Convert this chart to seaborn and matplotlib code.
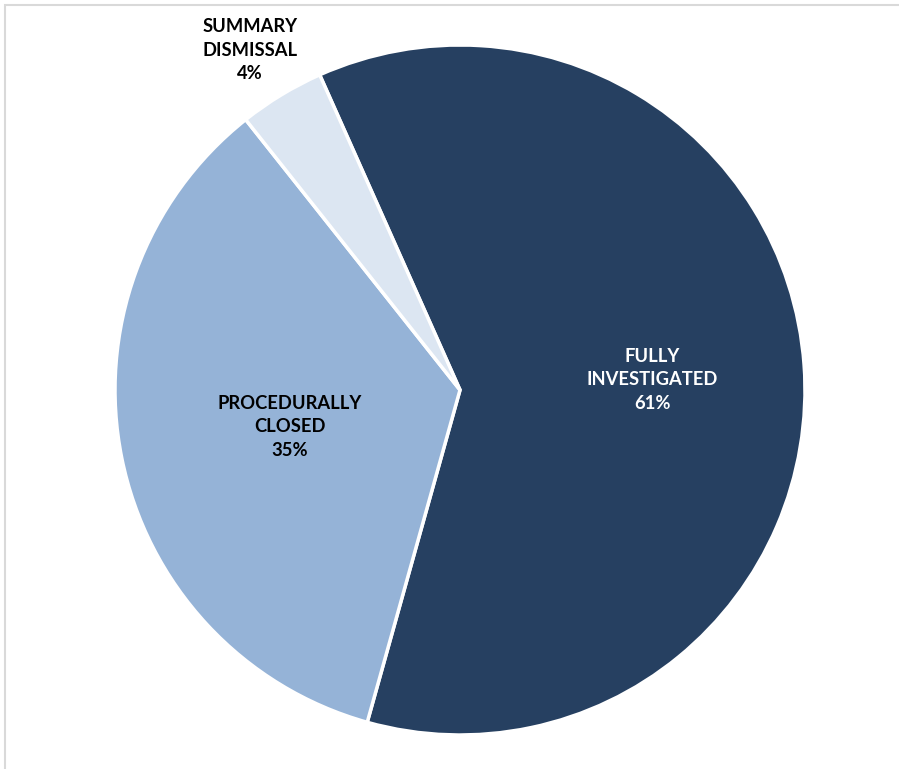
import matplotlib
matplotlib.use("Agg")
import matplotlib.pyplot as plt
import seaborn as sns
from matplotlib.patches import Rectangle

categories = ["FULLY\nINVESTIGATED", "PROCEDURALLY\nCLOSED", "SUMMARY\nDISMISSAL"]
values = [61, 35, 4]
pct_labels = ["61%", "35%", "4%"]
colors = ["#264061", "#95B3D7", "#DCE6F2"]
text_colors = ["white", "black", "black"]

sns.set_theme(style="white")
plt.rcParams['font.family'] = ['Lato', 'DejaVu Sans']

W, H = 899, 769
fig = plt.figure(figsize=(W / 100, H / 100), dpi=100)
ax = fig.add_axes([0, 0, 1, 1])
cx, cy, R = 460, 390, 345

wedges, _ = ax.pie(values, colors=colors, startangle=114, counterclock=False,
                   radius=1, center=(0, 0), frame=False,
                   wedgeprops=dict(edgecolor='white', linewidth=2.5))
ax.set_xlim(-cx / R, (W - cx) / R)
ax.set_ylim(-(H - cy) / R, cy / R)
ax.set_aspect('auto')
ax.axis('off')

label_pos = [(0.557, 0.029), (-0.493, -0.107), (-0.609, 0.985)]
for cat, pct, pos, tc in zip(categories, pct_labels, label_pos, text_colors):
    ax.text(pos[0], pos[1], f"{cat}\n{pct}", ha='center', va='center',
            fontsize=13.2, fontweight='bold', color=tc, linespacing=1.45)

# light border of the chart area
fig.patches.append(Rectangle((5 / W, -0.1), 1.2, (H - 5) / H + 0.1, transform=fig.transFigure,
                             fill=False, edgecolor='#d9d9d9', linewidth=1.5))

fig.savefig("out.png", dpi=100)
